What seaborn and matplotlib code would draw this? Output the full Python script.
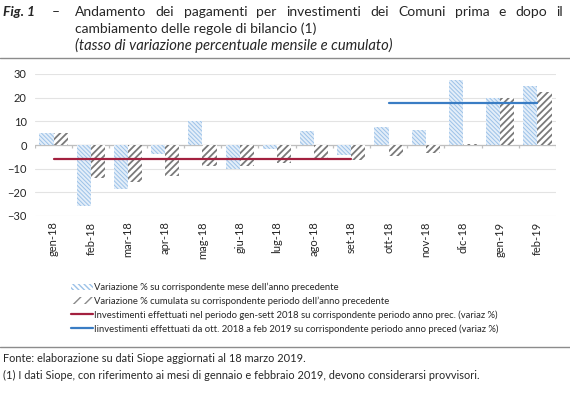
import numpy as np
import pandas as pd
import seaborn as sns
import matplotlib.pyplot as plt
from matplotlib.patches import Patch
from matplotlib.lines import Line2D

mesi = ['gen-18', 'feb-18', 'mar-18', 'apr-18', 'mag-18', 'giu-18', 'lug-18',
        'ago-18', 'set-18', 'ott-18', 'nov-18', 'dic-18', 'gen-19', 'feb-19']
var_mensile = [5.0, -25.6, -18.6, -3.7, 10.2, -10.0, -1.7, 5.8, -4.1, 7.5, 6.2, 27.4, 20.0, 24.9]
var_cumulata = [5.0, -14.0, -15.7, -13.3, -8.8, -9.0, -7.6, -6.1, -6.2, -4.6, -3.4, 0.4, 19.8, 22.4]

serie = ["Variazione % su corrispondente mese dell\u2019anno precedente",
         "Variazione % cumulata su corrispondente periodo dell\u2019anno precedente"]
periodi = [("gen-18", "set-18", -5.8,
            "Investimenti effettuati nel periodo gen-sett 2018 su corrispondente periodo anno prec. (variaz %)"),
           ("ott-18", "feb-19", 17.8,
            "Iinvestimenti effettuati da ott. 2018 a feb 2019 su corrispondente periodo anno preced (variaz %)")]

sns.set_theme(style="white")
plt.rcParams['font.family'] = ['Lato', 'DejaVu Sans']

df = pd.DataFrame({
    'mese': mesi * 2,
    'valore': var_mensile + var_cumulata,
    'serie': [serie[0]] * len(mesi) + [serie[1]] * len(mesi),
})

fig = plt.figure(figsize=(5.7, 4.0), dpi=100)
ax = fig.add_axes([35 / 570, 1 - 216 / 400, 521 / 570, 142 / 400])

sns.barplot(data=df, x='mese', y='valore', hue='serie', order=mesi, hue_order=serie,
            width=0.76, ax=ax, legend=False, zorder=2)

stili = [dict(fc='#e4eef9', ec='#9cc2e8', hatch='\\' * 8, lw_h=0.7),
         dict(fc='white', ec='#7a7a7a', hatch='/////', lw_h=1.3)]
for cont, st in zip(ax.containers, stili):
    for p in cont:
        p.set_facecolor(st['fc'])
        p.set_edgecolor(st['ec'])
        p.set_hatch(st['hatch'])
        p.set_linewidth(0)
        if hasattr(p, 'set_hatch_linewidth'):
            p.set_hatch_linewidth(st['lw_h'])

colori_linee = ['#a3203f', '#3a7dc4']
for (inizio, fine, val, _), col in zip(periodi, colori_linee):
    xs = [mesi.index(inizio), mesi.index(fine)]
    sns.lineplot(x=xs, y=[val, val], ax=ax, color=col, lw=1.6, zorder=4)

ax.set_xlim(-0.5, len(mesi) - 0.5)
ax.set_ylim(-30, 30)
ax.set_yticks([-30, -20, -10, 0, 10, 20, 30])
ax.yaxis.grid(True, color='#e3e3e3', lw=0.8)
ax.set_axisbelow(True)
ax.axhline(0, color='#bfbfbf', lw=0.9, zorder=1)
ax.vlines(np.arange(-0.5, len(mesi)), -1.4, 0, color='#bfbfbf', lw=0.9, zorder=1)
for s in ax.spines.values():
    s.set_visible(False)
ax.set_xlabel('')
ax.set_ylabel('')
ax.tick_params(axis='x', labelrotation=90, labelsize=8, pad=4, length=0)
ax.tick_params(axis='y', labelsize=8, pad=6, length=0)

handles = []
legend_stili = [dict(fc='white', ec='#9cc2e8', hatch='\\' * 6),
                dict(fc='white', ec='#8a8a8a', hatch='///')]
for st, lab in zip(legend_stili, serie):
    handles.append(Patch(facecolor=st['fc'], edgecolor=st['ec'], hatch=st['hatch'], lw=0, label=lab))
for (_, _, _, lab), col in zip(periodi, colori_linee):
    handles.append(Line2D([], [], color=col, lw=1.6, label=lab))
fig.legend(handles=handles, loc='upper left', bbox_to_anchor=(66 / 570, 1 - 278 / 400),
           frameon=False, fontsize=6.85, handlelength=2.3, handleheight=0.7,
           handletextpad=0.15, labelspacing=0.45, borderpad=0)

# title block
fig.text(3 / 570, 1 - 12 / 400, 'Fig. 1', fontsize=10, fontweight='bold', fontstyle='italic', va='center')
fig.text(52 / 570, 1 - 12 / 400, '\u2013', fontsize=10, va='center')

# first title line is justified between x=75 and x=563
parole = 'Andamento dei pagamenti per investimenti dei Comuni prima e dopo il'.split()
renderer = fig.canvas.get_renderer()
testi = [fig.text(0, 1 - 12 / 400, w, fontsize=10, va='center') for w in parole]
larghezze = [t.get_window_extent(renderer).width for t in testi]
gap = (563 - 75 - sum(larghezze)) / (len(parole) - 1)
x = 75
for t, w in zip(testi, larghezze):
    t.set_x(x / 570)
    x += w + gap

fig.text(75 / 570, 1 - 29 / 400, 'cambiamento delle regole di bilancio (1)', fontsize=10, va='center')
fig.text(75 / 570, 1 - 45 / 400, '(tasso di variazione percentuale mensile e cumulato)',
         fontsize=10.6, fontstyle='italic', va='center')
fig.add_artist(Line2D([0, 1], [1 - 58 / 400, 1 - 58 / 400], color='#8c8c8c', lw=1.0))
fig.add_artist(Line2D([0, 1], [1 - 347 / 400, 1 - 347 / 400], color='#8c8c8c', lw=1.0))

fig.text(3 / 570, 1 - 358 / 400, 'Fonte: elaborazione su dati Siope aggiornati al 18 marzo 2019.',
         fontsize=7.9, va='center')
fig.text(3 / 570, 1 - 375 / 400,
         '(1) I dati Siope, con riferimento ai mesi di gennaio e febbraio 2019, devono considerarsi provvisori.',
         fontsize=7.9, va='center')

fig.savefig('out.png', dpi=100)
